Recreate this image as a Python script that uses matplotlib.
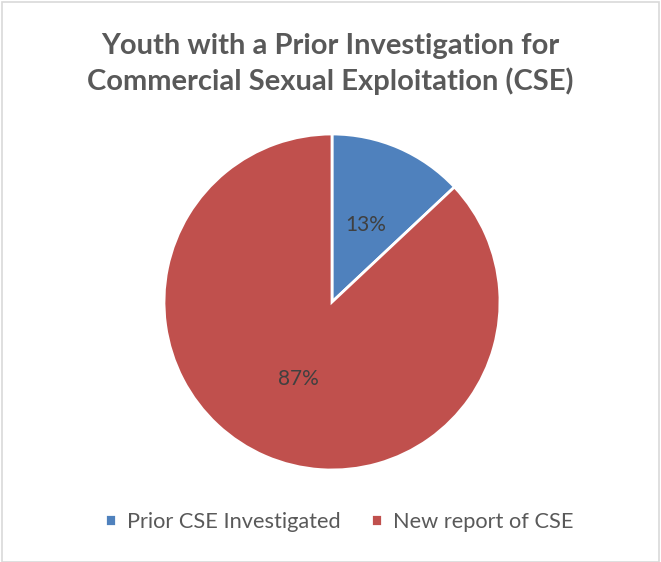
import matplotlib
matplotlib.use('Agg')
import matplotlib.pyplot as plt
from matplotlib.patches import Rectangle

# Данные диаграммы
labels = ['Prior CSE Investigated', 'New report of CSE']
shares = [13, 87]
colors = ['#4F81BD', '#C0504D']
title = 'Youth with a Prior Investigation for\nCommercial Sexual Exploitation (CSE)'

plt.rcParams['font.family'] = ['Lato', 'DejaVu Sans']

W, H = 661, 562
fig = plt.figure(figsize=(W / 100, H / 100), dpi=100)

# рамка вокруг графика
fig.patches.append(Rectangle((2 / W, 0), (W - 4) / W, (H - 2) / H, transform=fig.transFigure,
                             fill=False, edgecolor='#d9d9d9', linewidth=1.2))

cx, cy, r = 332, 302, 168
ax = fig.add_axes([(cx - r) / W, (H - cy - r) / H, 2 * r / W, 2 * r / H])
wedges, texts, autotexts = ax.pie(
    shares, colors=colors, startangle=90, counterclock=False,
    autopct='%d%%', pctdistance=0.5,
    wedgeprops=dict(edgecolor='white', linewidth=2),
    textprops=dict(color='#404040', fontsize=15),
)
ax.set_aspect('equal')
ax.set_xlim(-1, 1)
ax.set_ylim(-1, 1)

fig.text(0.5, 1 - 64 / H, title, ha='center', va='center', fontsize=21,
         fontweight='bold', color='#595959', linespacing=1.38)

fig.legend(wedges, labels, loc='center', bbox_to_anchor=(339 / W, 1 - 522 / H), ncol=2,
           frameon=False, fontsize=15.7, labelcolor='#595959', handlelength=0.5,
           handleheight=0.5, handletextpad=0.5, columnspacing=1.4)

plt.savefig('out.png', dpi=100)
